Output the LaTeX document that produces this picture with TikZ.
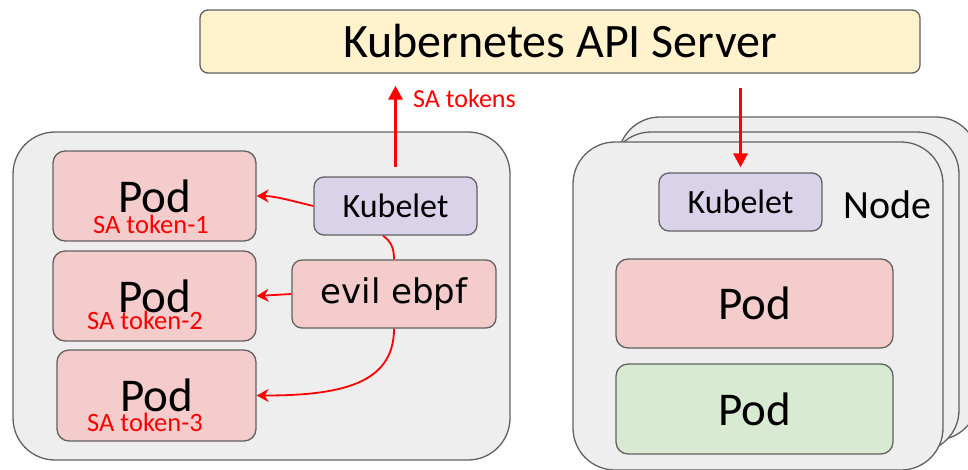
\documentclass[tikz,border=0pt]{standalone}
\usepackage{fontspec}
\setmainfont{Carlito}
\newfontfamily\ebpffont{DejaVu Sans}
\usetikzlibrary{arrows.meta}

\definecolor{edgegray}{HTML}{616161}
\definecolor{hostgray}{HTML}{EEEEEE}
\definecolor{podred}{HTML}{F4CCCC}
\definecolor{podgreen}{HTML}{D9EAD3}
\definecolor{kubepurple}{HTML}{D9D2E9}
\definecolor{apiyellow}{HTML}{FFF2CC}

\tikzset{
  box/.style={draw=edgegray, line width=1.3pt, rounded corners=10pt, inner sep=0pt},
  apibox/.style={box, fill=apiyellow, rounded corners=8pt, font=\fontsize{48}{48}\selectfont},
  hostbox/.style={box, fill=hostgray, rounded corners=42pt},
  pod/.style={box, fill=podred, rounded corners=12pt, font=\fontsize{47}{47}\selectfont},
  kubelet/.style={box, fill=kubepurple, minimum width=163pt, minimum height=58pt, font=\fontsize{34}{34}\selectfont},
  token/.style={text=red, inner sep=0pt, font=\fontsize{26.5}{26.5}\selectfont},
  redline/.style={draw=red, line width=1.8pt},
  tokenarrow/.style={redline, -{Stealth[length=12pt,width=13pt]}},
  apiarrow/.style={draw=red, line width=3.2pt, -{Triangle[length=14pt,width=14pt]}}
}

\begin{document}
\begin{tikzpicture}[x=1pt,y=-1pt]
  \clip (0,0) rectangle (968,469);

  % API server
  \node[apibox, minimum width=720pt, minimum height=63pt] (api) at (560,41.5) {Kubernetes API Server};

  % Left node
  \node[hostbox, minimum width=497pt, minimum height=328pt] (hostL) at (261.5,296) {};
  \node[pod, minimum width=203pt, minimum height=90pt] (pod1) at (154.5,196) {Pod};
  \node[pod, minimum width=203pt, minimum height=90pt] (pod2) at (154.5,296) {Pod};
  \node[pod, minimum width=199pt, minimum height=91pt] (pod3) at (156.5,395.5) {Pod};
  \node[token, anchor=base] (tok1) at (151,233) {SA token-1};
  \node[token, anchor=base] (tok2) at (145,329) {SA token-2};
  \node[token, anchor=base] (tok3) at (145,431) {SA token-3};
  \node[kubelet] (kubeL) at (395.5,206) {Kubelet};
  \node[pod, rounded corners=10pt, minimum width=204pt, minimum height=68pt,
        font=\ebpffont\fontsize{34}{34}\selectfont] (ebpf) at (394,294) {evil ebpf};

  % Kubelet hands tokens to the pods, ebpf reads them
  \draw[tokenarrow] (kubeL.west) .. controls +(-25,-6) and +(18,0) .. (pod1.east);
  \draw[redline] (kubeL.247) .. controls +(8,6) and +(0,-12) .. (ebpf.north);
  \draw[tokenarrow] (ebpf.west) -- (pod2.east);
  \draw[tokenarrow] (ebpf.south) .. controls +(0,55) and +(85,0) .. (pod3.east);

  % Tokens sent to the API server
  \draw[apiarrow, shorten <=9pt, shorten >=12pt] (kubeL.north) -- (kubeL.north |- api.south);
  \node[token, anchor=base west, font=\fontsize{26}{26}\selectfont] (satok) at (413,107) {SA tokens};

  % Right nodes (stacked)
  \node[hostbox, minimum width=360pt, minimum height=323pt] (hostR3) at (798,278.5) {};
  \node[hostbox, minimum width=350pt, minimum height=320pt] (hostR2) at (784,292) {};
  \node[hostbox, minimum width=370pt, minimum height=328pt] (hostR1) at (758,306) {};
  \node[kubelet] (kubeR) at (740.5,202) {Kubelet};
  \node[anchor=base west, inner sep=0pt, font=\fontsize{40}{40}\selectfont] (nodelbl) at (843,218) {Node};
  \node[pod, minimum width=277pt, minimum height=89pt] (podR1) at (754.5,303.5) {Pod};
  \node[pod, fill=podgreen, minimum width=277pt, minimum height=90pt] (podR2) at (754.5,409) {Pod};

  \draw[apiarrow, shorten <=14pt, shorten >=5pt] (kubeR.north |- api.south) -- (kubeR.north);
\end{tikzpicture}
\end{document}
